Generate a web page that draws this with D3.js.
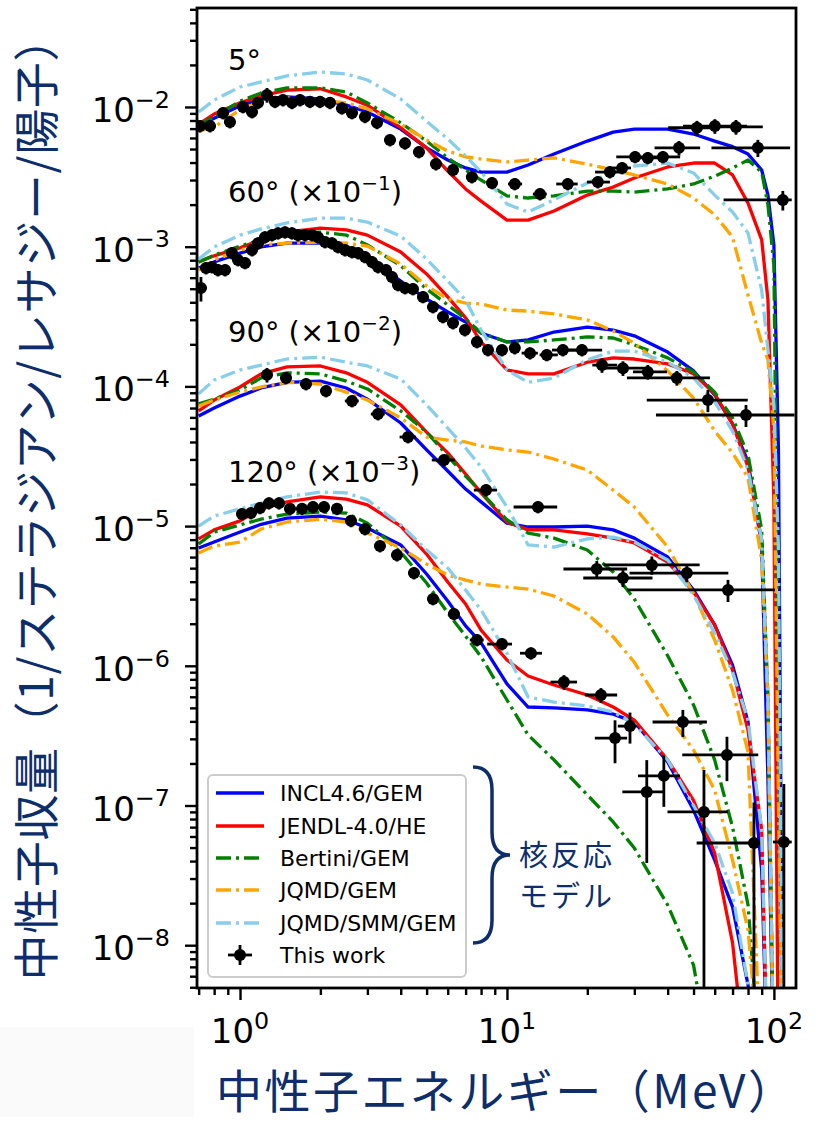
<!DOCTYPE html>
<html>
<head>
<meta charset="utf-8">
<script src="https://cdn.jsdelivr.net/npm/d3@7"></script>
<style>
  body { margin: 0; background: #ffffff; }
  svg { display: block; }
</style>
</head>
<body>
<svg id="chart" width="833" height="1124"></svg>
<script>
// ---- Energy grid shared by the model spectra (MeV) ----
const energyGrid = [0.7, 0.8, 1, 1.2, 1.5, 2, 2.5, 3, 4, 5, 6, 7, 8, 10, 12, 15, 20, 25, 30,
                    40, 50, 60, 70, 80, 90, 95, 100, 104, 108];

// ---- Angles and the display scale factor applied to each group ----
const angles = [5, 60, 90, 120];
const angleScale = [1, 1e-1, 1e-2, 1e-3];

// ---- Model names (legend order) ----
const modelNames = ["INCL4.6/GEM", "JENDL-4.0/HE", "Bertini/GEM", "JQMD/GEM", "JQMD/SMM/GEM"];

// ---- Model yields (neutrons / sr / lethargy / proton), unscaled ----
// 5 degrees
const incl5    = [7.3e-3, 8.3e-3, 1.02e-2, 1.14e-2, 1.18e-2, 1.14e-2, 1.03e-2, 9.2e-3, 6.95e-3, 5.1e-3, 4.17e-3, 3.66e-3, 3.42e-3, 3.42e-3, 3.84e-3, 4.6e-3, 5.7e-3, 6.6e-3, 6.95e-3, 6.95e-3, 6.4e-3, 5.7e-3, 5.2e-3, 4.6e-3, 3.54e-3, 2.34e-3, 1.03e-3, 3.5e-5, 1e-9];
const jendl5   = [7.55e-3, 8.9e-3, 1.07e-2, 1.2e-2, 1.32e-2, 1.35e-2, 1.18e-2, 1.03e-2, 7.1e-3, 5.1e-3, 3.48e-3, 2.59e-3, 2.12e-3, 1.55e-3, 1.55e-3, 1.8e-3, 2.34e-3, 2.67e-3, 3.1e-3, 3.72e-3, 3.97e-3, 3.97e-3, 3.26e-3, 2.05e-3, 1.12e-3, 4.15e-4, 1.54e-5, 1e-9];
const bertini5 = [7.45e-3, 8.5e-3, 1.1e-2, 1.26e-2, 1.37e-2, 1.37e-2, 1.28e-2, 1.07e-2, 7.7e-3, 5.7e-3, 4.32e-3, 3.54e-3, 3.0e-3, 2.31e-3, 2.23e-3, 2.31e-3, 2.5e-3, 2.5e-3, 2.46e-3, 2.59e-3, 2.81e-3, 3.2e-3, 3.66e-3, 4.17e-3, 3.42e-3, 1.99e-3, 7.4e-4, 5.7e-7, 1e-9];
const jqmd5    = [6.7e-3, 7.2e-3, 9.5e-3, 1.1e-2, 1.16e-2, 1.12e-2, 1.07e-2, 9.7e-3, 7.55e-3, 5.8e-3, 4.84e-3, 4.39e-3, 4.24e-3, 4.04e-3, 4.17e-3, 4.32e-3, 3.9e-3, 3.54e-3, 3.26e-3, 2.81e-3, 2.23e-3, 1.69e-3, 1.17e-3, 4.5e-4, 2.04e-4, 1.55e-4, 4.87e-5, 1.09e-7, 1e-9];
const smm5     = [9.2e-3, 1.12e-2, 1.39e-2, 1.51e-2, 1.67e-2, 1.78e-2, 1.72e-2, 1.56e-2, 1.14e-2, 7.9e-3, 5.9e-3, 4.46e-3, 3.42e-3, 2.02e-3, 1.77e-3, 2.16e-3, 2.86e-3, 3.42e-3, 3.78e-3, 3.97e-3, 3.37e-3, 2.34e-3, 1.77e-3, 1.25e-3, 4.9e-4, 1.82e-4, 7.37e-5, 6.74e-6, 1e-9];
// 60 degrees
const incl60    = [7.03e-3, 7.78e-3, 9.0e-3, 9.95e-3, 1.06e-2, 1.06e-2, 9.95e-3, 8.45e-3, 5.68e-3, 4.22e-3, 3.41e-3, 2.89e-3, 2.41e-3, 2.08e-3, 2.15e-3, 2.45e-3, 2.66e-3, 2.53e-3, 2.3e-3, 1.76e-3, 1.29e-3, 8.68e-4, 5.38e-4, 2.88e-4, 7.3e-5, 1.52e-6, 1e-8];
const jendl60   = [7.78e-3, 8.6e-3, 9.8e-3, 1.12e-2, 1.27e-2, 1.36e-2, 1.32e-2, 1.21e-2, 9.15e-3, 6.38e-3, 4.37e-3, 3.09e-3, 2.08e-3, 1.31e-3, 1.23e-3, 1.23e-3, 1.49e-3, 1.6e-3, 1.57e-3, 1.45e-3, 1.23e-3, 8.84e-4, 5.38e-4, 2.65e-4, 7.94e-5, 5.69e-6, 1e-8];
const bertini60 = [7.78e-3, 8.7e-3, 1.01e-2, 1.12e-2, 1.23e-2, 1.27e-2, 1.21e-2, 1.03e-2, 7.3e-3, 4.98e-3, 3.83e-3, 3.04e-3, 2.41e-3, 2.08e-3, 2.08e-3, 2.15e-3, 2.26e-3, 2.22e-3, 1.98e-3, 1.6e-3, 1.27e-3, 9.1e-4, 5.95e-4, 3.23e-4, 9.4e-5, 5.69e-6, 1e-8];
const jqmd60    = [6.8e-3, 8.03e-3, 9.45e-3, 1.03e-2, 1.06e-2, 1.08e-2, 1.06e-2, 1.01e-2, 7.52e-3, 5.24e-3, 4.22e-3, 3.95e-3, 3.89e-3, 3.52e-3, 3.46e-3, 3.3e-3, 2.99e-3, 2.49e-3, 2.04e-3, 1.29e-3, 8.25e-4, 4.79e-4, 3.34e-4, 2.21e-4, 5.72e-5, 5.69e-6, 1e-8];
const smm60     = [8.15e-3, 9.95e-3, 1.21e-2, 1.34e-2, 1.48e-2, 1.6e-2, 1.6e-2, 1.5e-2, 1.19e-2, 8.15e-3, 5.68e-3, 4.15e-3, 2.53e-3, 1.31e-3, 1.07e-3, 1.15e-3, 1.55e-3, 1.79e-3, 1.79e-3, 1.49e-3, 1.15e-3, 7.74e-4, 4.79e-4, 2.52e-4, 7.94e-5, 5.69e-6, 1e-8];
// 90 degrees
const incl90    = [6.14e-3, 7.0e-3, 8.52e-3, 9.74e-3, 1.07e-2, 1.09e-2, 9.74e-3, 8.1e-3, 5.47e-3, 3.51e-3, 2.48e-3, 1.84e-3, 1.49e-3, 1.05e-3, 9.85e-4, 9.85e-4, 1.0e-3, 9.4e-4, 8.2e-4, 6.01e-4, 3.49e-4, 1.96e-4, 1.01e-4, 3.96e-5, 3.45e-6, 1e-7];
const jendl90   = [6.67e-3, 7.98e-3, 9.9e-3, 1.23e-2, 1.38e-2, 1.4e-2, 1.25e-2, 1.07e-2, 7.37e-3, 4.71e-3, 3.34e-3, 2.36e-3, 1.73e-3, 1.07e-3, 9.4e-4, 9.4e-4, 8.78e-4, 8.2e-4, 7.57e-4, 5.53e-4, 3.38e-4, 1.96e-4, 9.34e-5, 3.47e-5, 6.7e-6, 1e-7];
const bertini90 = [7.5e-3, 8.1e-3, 9.41e-3, 1.15e-2, 1.25e-2, 1.23e-2, 1.09e-2, 9.58e-3, 6.67e-3, 4.71e-3, 3.17e-3, 2.28e-3, 1.75e-3, 1.11e-3, 8.92e-4, 8.2e-4, 6.74e-4, 4.69e-4, 3.01e-4, 1.18e-4, 5.25e-5, 2.12e-5, 7.0e-6, 1.94e-6, 1e-7];
const jqmd90    = [7.24e-3, 7.98e-3, 9.1e-3, 9.9e-3, 1.07e-2, 1.04e-2, 9.1e-3, 7.98e-3, 5.95e-3, 4.34e-3, 4.13e-3, 4.0e-3, 3.74e-3, 3.51e-3, 3.39e-3, 3.02e-3, 2.52e-3, 1.81e-3, 1.37e-3, 7.08e-4, 3.27e-4, 1.53e-4, 6.7e-5, 2.41e-5, 1e-7];
const smm90     = [8.84e-3, 1.11e-2, 1.31e-2, 1.42e-2, 1.57e-2, 1.62e-2, 1.49e-2, 1.4e-2, 1.13e-2, 7.37e-3, 5.03e-3, 3.62e-3, 2.65e-3, 1.37e-3, 7.33e-4, 7.08e-4, 8.09e-4, 8.35e-4, 7.69e-4, 5.72e-4, 3.21e-4, 1.72e-4, 9.0e-5, 4.09e-5, 6.7e-6, 1e-7];
// 120 degrees
const incl120    = [6.97e-3, 7.69e-3, 9.06e-3, 1.03e-2, 1.14e-2, 1.18e-2, 1.11e-2, 9.68e-3, 7.33e-3, 4.54e-3, 2.91e-3, 1.93e-3, 1.46e-3, 7.41e-4, 5.07e-4, 4.99e-4, 4.83e-4, 4.51e-4, 3.96e-4, 2.05e-4, 9.28e-5, 4.07e-5, 1.88e-5, 5.19e-6, 1e-6];
const jendl120   = [8.09e-3, 9.4e-3, 1.09e-2, 1.33e-2, 1.49e-2, 1.62e-2, 1.56e-2, 1.42e-2, 1.0e-2, 6.31e-3, 3.98e-3, 2.77e-3, 1.8e-3, 1.1e-3, 8.46e-4, 7.29e-4, 6.18e-4, 5.07e-4, 4.09e-4, 2.12e-4, 1.09e-4, 4.57e-5, 1.04e-5, 1e-6];
const bertini120 = [7.44e-3, 9.06e-3, 1.02e-2, 1.12e-2, 1.22e-2, 1.26e-2, 1.24e-2, 1.05e-2, 6.52e-3, 3.91e-3, 2.39e-3, 1.63e-3, 1.16e-3, 5.69e-4, 3.2e-4, 2.12e-4, 1.19e-4, 7.63e-5, 4.96e-5, 1.94e-5, 7.2e-6, 1e-6];
const jqmd120    = [6.42e-3, 7.2e-3, 7.69e-3, 9.53e-3, 1.07e-2, 1.12e-2, 1.07e-2, 8.92e-3, 6.97e-3, 5.35e-3, 4.47e-3, 4.11e-3, 3.85e-3, 3.66e-3, 3.54e-3, 3.16e-3, 2.35e-3, 1.61e-3, 1.06e-3, 4.44e-4, 2.5e-4, 1.29e-4, 4.07e-5, 1.28e-5, 1e-6];
const smm120     = [1.0e-2, 1.18e-2, 1.33e-2, 1.46e-2, 1.62e-2, 1.75e-2, 1.73e-2, 1.54e-2, 1.02e-2, 6.74e-3, 5.01e-3, 3.49e-3, 2.51e-3, 1.23e-3, 5.98e-4, 5.5e-4, 5.16e-4, 4.67e-4, 3.83e-4, 2.12e-4, 1.0e-4, 5.39e-5, 2.36e-5, 5.19e-6, 1e-6];

// ---- Measured yields: [E (MeV), yield, rel. energy bin low, rel. energy bin high, rel. yield error] ----
const work5 = [
  [0.708, 7.3e-3, .05, .05, .1], [0.772, 7.3e-3, .05, .05, .1], [0.864, 9.06e-3, .05, .05, .1],
  [0.917, 7.8e-3, .05, .05, .1], [1.026, 1.0e-2, .05, .05, .1], [1.109, 9.2e-3, .05, .05, .1],
  [1.168, 1.07e-2, .05, .05, .1], [1.262, 1.22e-2, .05, .05, .12], [1.352, 1.09e-2, .05, .05, .1],
  [1.449, 1.12e-2, .05, .05, .1], [1.566, 1.07e-2, .05, .05, .1], [1.678, 1.12e-2, .05, .05, .1],
  [1.828, 1.09e-2, .05, .05, .1], [1.994, 1.09e-2, .05, .05, .1], [2.173, 1.07e-2, .05, .05, .1],
  [2.41, 9.8e-3, .05, .05, .1], [2.627, 9.06e-3, .05, .05, .1], [2.939, 8.5e-3, .05, .05, .1],
  [3.26, 7.7e-3, .05, .05, .1], [3.646, 5.8e-3, .05, .05, .1], [4.15, 5.5e-3, .05, .05, .1],
  [4.68, 4.76e-3, .05, .05, .1], [5.42, 3.9e-3, .05, .05, .1], [6.28, 3.54e-3, .05, .05, .1],
  [7.39, 3.15e-3, .05, .05, .1], [8.79, 2.86e-3, .05, .05, .1], [10.7, 2.81e-3, .057, .065, .1],
  [13.3, 2.38e-3, .06, .06, .1], [16.9, 2.81e-3, .095, .089, .1], [21.9, 2.9e-3, .09, .11, .1],
  [24.3, 3.42e-3, .12, .12, .1], [27.0, 3.66e-3, .08, .08, .1], [30.2, 4.39e-3, .15, .14, .1],
  [33.7, 4.32e-3, .14, .18, .1], [38.4, 4.39e-3, .08, .16, .1], [44.1, 5.1e-3, .19, .2, .12],
  [51.5, 7.1e-3, .22, .22, .12], [60.1, 7.3e-3, .24, .32, .12], [72.1, 7.2e-3, .18, .26, .12],
  [87.1, 5.1e-3, .33, .32, .14], [108, 2.16e-3, .4, .08, .16]
];
const work60 = [
  [0.714, 5.06e-3, .05, .05, .2], [0.746, 7.03e-3, .05, .05, .1], [0.785, 7.15e-3, .05, .05, .1],
  [0.827, 6.8e-3, .05, .05, .1], [0.879, 6.8e-3, .05, .05, .1], [0.933, 9.0e-3, .05, .05, .1],
  [0.983, 8.03e-3, .05, .05, .1], [1.044, 7.65e-3, .05, .05, .1], [1.109, 9.45e-3, .05, .05, .1],
  [1.168, 1.06e-2, .05, .05, .1], [1.24, 1.17e-2, .05, .05, .1], [1.318, 1.21e-2, .05, .05, .1],
  [1.388, 1.25e-2, .05, .05, .1], [1.474, 1.27e-2, .05, .05, .1], [1.566, 1.25e-2, .05, .05, .1],
  [1.649, 1.21e-2, .05, .05, .1], [1.752, 1.21e-2, .05, .05, .1], [1.861, 1.21e-2, .05, .05, .1],
  [1.959, 1.17e-2, .05, .05, .1], [2.082, 1.08e-2, .05, .05, .1], [2.211, 1.06e-2, .05, .05, .1],
  [2.328, 9.95e-3, .05, .05, .1], [2.474, 9.45e-3, .05, .05, .1], [2.627, 9.15e-3, .05, .05, .1],
  [2.767, 9.0e-3, .05, .05, .1], [2.939, 8.45e-3, .05, .05, .1], [3.122, 7.78e-3, .05, .05, .1],
  [3.288, 7.15e-3, .05, .05, .1], [3.523, 6.8e-3, .05, .05, .1], [3.71, 6.07e-3, .05, .05, .1],
  [3.907, 5.32e-3, .05, .05, .1], [4.15, 5.06e-3, .05, .05, .1], [4.445, 4.98e-3, .05, .05, .1],
  [4.846, 4.37e-3, .05, .05, .1], [5.283, 3.7e-3, .05, .05, .1], [5.758, 3.14e-3, .05, .05, .1],
  [6.28, 2.84e-3, .05, .05, .1], [6.96, 2.53e-3, .05, .05, .1], [7.72, 2.08e-3, .05, .05, .1],
  [8.49, 1.82e-3, .05, .05, .1], [9.58, 1.82e-3, .05, .05, .1], [10.7, 1.88e-3, .045, .045, .1],
  [12.2, 1.73e-3, .07, .07, .1], [14.1, 1.68e-3, .06, .1, .1], [16.2, 1.82e-3, .09, .16, .1],
  [19.1, 1.82e-3, .19, .19, .1], [22.7, 1.42e-3, .08, .14, .12], [27.2, 1.35e-3, .18, .26, .12],
  [33.7, 1.27e-3, .12, .18, .12], [43.3, 1.15e-3, .35, .33, .12], [56.6, 7.98e-4, .41, .41, .18],
  [78.6, 6.24e-4, .54, .52, .18]
];
const work90 = [
  [1.262, 1.21e-2, .05, .05, .12], [1.487, 1.15e-2, .05, .05, .1], [1.767, 1.04e-2, .05, .05, .1],
  [2.10, 9.27e-3, .05, .05, .1], [2.627, 7.86e-3, .06, .06, .1], [3.288, 6.34e-3, .06, .06, .1],
  [4.26, 4.34e-3, .07, .07, .1], [5.81, 2.97e-3, .1, .1, .1], [8.35, 1.81e-3, .1, .1, .1],
  [13.07, 1.37e-3, .19, .18, .1], [21.7, 4.93e-4, .25, .3, .14], [27.2, 4.25e-4, .29, .29, .14],
  [34.9, 5.27e-4, .34, .51, .15], [47.2, 4.61e-4, .39, .43, .14], [67.3, 3.49e-4, .58, .5, .18]
];
const work120 = [
  [1.017, 1.22e-2, .05, .05, .1], [1.099, 1.24e-2, .05, .05, .1], [1.188, 1.35e-2, .05, .05, .1],
  [1.284, 1.46e-2, .05, .05, .1], [1.4, 1.46e-2, .05, .05, .1], [1.539, 1.33e-2, .05, .05, .1],
  [1.707, 1.33e-2, .05, .05, .1], [1.877, 1.37e-2, .05, .05, .1], [2.064, 1.37e-2, .05, .05, .1],
  [2.308, 1.33e-2, .05, .05, .1], [2.604, 1.09e-2, .05, .05, .1], [2.939, 9.53e-3, .05, .05, .1],
  [3.344, 7.2e-3, .05, .05, .1], [3.873, 6.2e-3, .05, .05, .1], [4.484, 4.61e-3, .05, .05, .1],
  [5.283, 3.01e-3, .05, .05, .1], [6.33, 2.35e-3, .05, .05, .1], [7.72, 1.53e-3, .06, .06, .1],
  [9.58, 1.43e-3, .12, .09, .1], [12.3, 1.23e-3, .09, .1, .1], [16.35, 7.65e-4, .11, .12, .12],
  [22.5, 6.18e-4, .13, .15, .12], [25.4, 3.04e-4, .16, .11, .34], [28.9, 3.7e-4, .1, .06, .25],
  [38.7, 1.63e-4, .2, .15, .4], [33.4, 1.25e-4, .19, .17, .69], [45.6, 3.96e-4, .23, .23, .22],
  [54.7, 8.99e-5, .27, .23, 1.0], [66.7, 2.3e-4, .32, .31, .35], [84.2, 5.39e-5, .39, .05, .95],
  [109, 5.48e-5, .09, .07, 1.6]
];

// ---- Axis tick values ----
const xMajorTicks = [1, 10, 100];
const xMinorTicks = [0.7, 0.8, 0.9, 2, 3, 4, 5, 6, 7, 8, 9, 20, 30, 40, 50, 60, 70, 80, 90];
const yMajorTicks = [1e-8, 1e-7, 1e-6, 1e-5, 1e-4, 1e-3, 1e-2];
const yMinorTicks = [5e-9, 6e-9, 7e-9, 8e-9, 9e-9,
  2e-8, 3e-8, 4e-8, 5e-8, 6e-8, 7e-8, 8e-8, 9e-8,
  2e-7, 3e-7, 4e-7, 5e-7, 6e-7, 7e-7, 8e-7, 9e-7,
  2e-6, 3e-6, 4e-6, 5e-6, 6e-6, 7e-6, 8e-6, 9e-6,
  2e-5, 3e-5, 4e-5, 5e-5, 6e-5, 7e-5, 8e-5, 9e-5,
  2e-4, 3e-4, 4e-4, 5e-4, 6e-4, 7e-4, 8e-4, 9e-4,
  2e-3, 3e-3, 4e-3, 5e-3, 6e-3, 7e-3, 8e-3, 9e-3,
  2e-2, 3e-2, 4e-2, 5e-2];

// ---- Grouping ----
const modelsByAngle = [
  [incl5, jendl5, bertini5, jqmd5, smm5],
  [incl60, jendl60, bertini60, jqmd60, smm60],
  [incl90, jendl90, bertini90, jqmd90, smm90],
  [incl120, jendl120, bertini120, jqmd120, smm120]
];
const workByAngle = [work5, work60, work90, work120];

// ---- Styles ----
const modelColors = ["#0000ff", "#ff0000", "#008000", "#ffa500", "#87ceeb"];
const modelDash = [null, null, "15,5,3,5", "15,5,3,5", "15,5,3,5"];
const navy = "#0d2d6b";
const tickFont = "'DejaVu Sans', sans-serif";
const jpFont = "'Noto Sans CJK JP', 'Noto Sans', sans-serif";

const svg = d3.select("#chart");
const W = 833, H = 1124;
const L = 197, R = 796, T = 8, B = 988;

svg.append("rect").attr("width", W).attr("height", H).attr("fill", "#ffffff");
svg.append("rect").attr("x", 0).attr("y", 1027).attr("width", 194).attr("height", 90).attr("fill", "#fafafa");

const x = d3.scaleLog().domain([0.69, 121]).range([L, R]);
const y = d3.scaleLog().domain([4.94e-9, 0.0511]).range([B, T]);

svg.append("defs").append("clipPath").attr("id", "plotClip")
  .append("rect").attr("x", L).attr("y", T).attr("width", R - L).attr("height", B - T);

const plot = svg.append("g").attr("clip-path", "url(#plotClip)");

const line = d3.line().x(d => x(d[0])).y(d => y(d[1]));

function drawWork(g, rows, factor) {
  const pts = g.append("g").selectAll("g").data(rows).join("g");
  pts.append("line")
    .attr("x1", d => x(d[0] * (1 - d[2]))).attr("x2", d => x(d[0] * (1 + d[3])))
    .attr("y1", d => y(d[1] * factor)).attr("y2", d => y(d[1] * factor))
    .attr("stroke", "#000").attr("stroke-width", 2.8);
  pts.append("line")
    .attr("x1", d => x(d[0])).attr("x2", d => x(d[0]))
    .attr("y1", d => y(d[1] * factor * (1 + d[4])))
    .attr("y2", d => d[4] >= 1 ? B + 10 : y(d[1] * factor * (1 - d[4])))
    .attr("stroke", "#000").attr("stroke-width", 2.8);
  pts.append("circle")
    .attr("cx", d => x(d[0])).attr("cy", d => y(d[1] * factor))
    .attr("r", 6).attr("fill", "#000");
}

angles.forEach((a, i) => {
  const f = angleScale[i];
  const grp = plot.append("g");
  modelsByAngle[i].forEach((vals, m) => {
    const pts = vals.map((v, k) => [energyGrid[k], v * f]);
    grp.append("path").datum(pts)
      .attr("d", line)
      .attr("fill", "none")
      .attr("stroke", modelColors[m])
      .attr("stroke-width", 3.3)
      .attr("stroke-linejoin", "round")
      .attr("stroke-dasharray", modelDash[m]);
  });
  drawWork(grp, workByAngle[i], f);
});

// ---- Axes ----
const xMajor = svg.append("g").attr("transform", `translate(0,${B})`)
  .call(d3.axisBottom(x).tickValues(xMajorTicks).tickSize(12).tickFormat(""));
const xMinor = svg.append("g").attr("transform", `translate(0,${B})`)
  .call(d3.axisBottom(x).tickValues(xMinorTicks).tickSize(7).tickFormat(""));
const yMajor = svg.append("g").attr("transform", `translate(${L},0)`)
  .call(d3.axisLeft(y).tickValues(yMajorTicks).tickSize(12).tickFormat(""));
const yMinor = svg.append("g").attr("transform", `translate(${L},0)`)
  .call(d3.axisLeft(y).tickValues(yMinorTicks).tickSize(7).tickFormat(""));
[xMajor, xMinor, yMajor, yMinor].forEach(g => {
  g.select(".domain").remove();
  g.selectAll(".tick line").attr("stroke", "#000").attr("stroke-width", 2.4);
});

svg.append("rect").attr("x", L).attr("y", T).attr("width", R - L).attr("height", B - T)
  .attr("fill", "none").attr("stroke", "#000").attr("stroke-width", 2.8);

// Power-of-ten tick labels
function powLabel(sel, exp, size) {
  sel.append("tspan").text("10");
  sel.append("tspan").attr("dy", -size * 0.42).attr("font-size", size * 0.7)
    .text(exp < 0 ? "\u2212" + Math.abs(exp) : String(exp));
}
xMajorTicks.forEach(v => {
  const t = svg.append("text").attr("x", x(v)).attr("y", B + 55)
    .attr("text-anchor", "middle").attr("font-family", tickFont).attr("font-size", 34).attr("fill", "#000");
  powLabel(t, Math.round(Math.log10(v)), 34);
});
yMajorTicks.forEach(v => {
  const t = svg.append("text").attr("x", 170).attr("y", y(v) + 15)
    .attr("text-anchor", "end").attr("font-family", tickFont).attr("font-size", 34).attr("fill", "#000");
  powLabel(t, Math.round(Math.log10(v)), 34);
});

// ---- Angle annotations ----
const annotBaseline = [70, 202, 342, 482];
angles.forEach((a, i) => {
  const t = svg.append("text").attr("x", 228).attr("y", annotBaseline[i])
    .attr("font-family", tickFont).attr("font-size", 29).attr("fill", "#000");
  const e = Math.round(Math.log10(angleScale[i]));
  if (e === 0) {
    t.text(`${a}°`);
  } else {
    t.append("tspan").text(`${a}° (×10`);
    t.append("tspan").attr("dy", -12).attr("font-size", 20).text("\u2212" + Math.abs(e));
    t.append("tspan").attr("dy", 12).attr("font-size", 29).text(")");
  }
});

// ---- Legend ----
const lg = svg.append("g");
lg.append("rect").attr("x", 208).attr("y", 775).attr("width", 258).attr("height", 202)
  .attr("rx", 5).attr("fill", "#fff").attr("fill-opacity", 0.85)
  .attr("stroke", "#cccccc").attr("stroke-width", 2);
const rowY = [793, 826, 858, 890, 923, 955];
modelNames.forEach((name, m) => {
  lg.append("line").attr("x1", 216).attr("x2", 264).attr("y1", rowY[m]).attr("y2", rowY[m])
    .attr("stroke", modelColors[m]).attr("stroke-width", 3.4).attr("stroke-dasharray", modelDash[m]);
  lg.append("text").attr("x", 280).attr("y", rowY[m] + 8).attr("font-family", tickFont)
    .attr("font-size", 22).attr("fill", "#000").text(name);
});
const wy = rowY[5];
lg.append("line").attr("x1", 228).attr("x2", 252).attr("y1", wy).attr("y2", wy).attr("stroke", "#000").attr("stroke-width", 2.8);
lg.append("line").attr("x1", 240).attr("x2", 240).attr("y1", wy - 10).attr("y2", wy + 10).attr("stroke", "#000").attr("stroke-width", 2.8);
lg.append("circle").attr("cx", 240).attr("cy", wy).attr("r", 6).attr("fill", "#000");
lg.append("text").attr("x", 280).attr("y", wy + 8).attr("font-family", tickFont)
  .attr("font-size", 22).attr("fill", "#000").text("This work");

// ---- Brace grouping the model curves ----
svg.append("path")
  .attr("d", "M473,767 Q492,767 492,790 L492,832 Q492,855 510,855 Q492,855 492,878 L492,920 Q492,943 473,943")
  .attr("fill", "none").attr("stroke", navy).attr("stroke-width", 3.5);
svg.append("text").attr("x", 519).attr("y", 866).attr("font-family", jpFont)
  .attr("font-size", 29).attr("fill", navy).attr("textLength", 93).attr("lengthAdjust", "spacing")
  .text("核反応");
svg.append("text").attr("x", 519).attr("y", 907).attr("font-family", jpFont)
  .attr("font-size", 29).attr("fill", navy).attr("textLength", 93).attr("lengthAdjust", "spacing")
  .text("モデル");

// ---- Axis titles ----
svg.append("text").attr("x", 505).attr("y", 1108).attr("text-anchor", "middle")
  .attr("font-family", jpFont).attr("font-size", 46).attr("fill", navy)
  .attr("textLength", 578).attr("lengthAdjust", "spacing")
  .text("中性子エネルギー（MeV）");
svg.append("text").attr("transform", "translate(53,498) rotate(-90)")
  .attr("text-anchor", "middle")
  .attr("font-family", jpFont).attr("font-size", 46).attr("fill", navy)
  .attr("textLength", 965).attr("lengthAdjust", "spacing")
  .text("中性子収量（1/ステラジアン/レサジー/陽子）");
</script>
</body>
</html>
